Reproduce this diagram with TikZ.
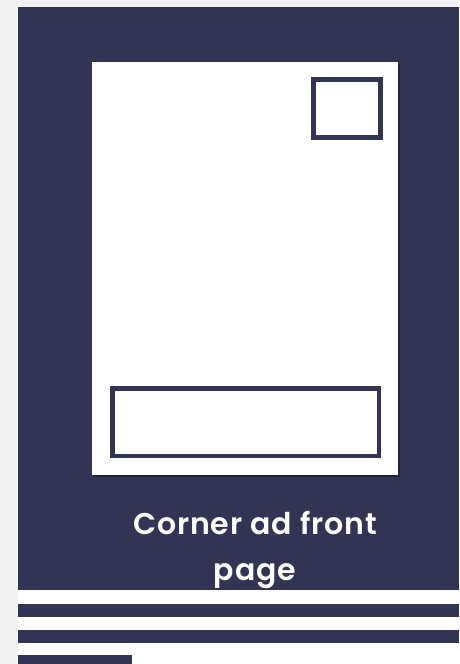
\documentclass[tikz,border=0pt]{standalone}
\usepackage{fontspec}
\newfontfamily\labelfont{Poppins}[UprightFont=* Medium, BoldFont=* SemiBold, LetterSpace=3]
\usetikzlibrary{positioning}
\definecolor{navy}{RGB}{49,52,82}
\definecolor{bggray}{RGB}{242,242,242}

\begin{document}
\begin{tikzpicture}[
    x=1pt, y=-1pt,
    every node/.style={inner sep=0pt, outer sep=0pt},
    sheet/.style={
        fill=white,
        minimum width=306pt,
        minimum height=413pt
    },
    adbox/.style={
        draw=navy,
        line width=4.5pt,
        fill=white
    },
    caption/.style={
        text=white,
        align=center,
        font=\labelfont\bfseries\fontsize{30}{46}\selectfont
    }
]

\useasboundingbox (0,0) rectangle (459,664);
\fill[bggray] (0,0) rectangle (459,664);
\fill[white] (18,590) rectangle (459,664);
\fill[navy] (18,7) rectangle (459,590);

% front page with its shadow
\fill[black, opacity=0.3] (93.5,63.5) rectangle (399.5,476.5);
\node[sheet] (page) at (245,268.5) {};

\node[adbox, minimum width=67pt, minimum height=58pt] (corner) at (347,108.5) {};
\node[adbox, minimum width=266.5pt, minimum height=67.5pt] (banner) at (245.5,422) {};

\node[caption] (label) at (255,550) {Corner ad front\\page};

% text lines below
\fill[navy] (18,604) rectangle (459,617);
\fill[navy] (18,630) rectangle (459,643);
\fill[navy] (18,655) rectangle (132,664);

\end{tikzpicture}
\end{document}
